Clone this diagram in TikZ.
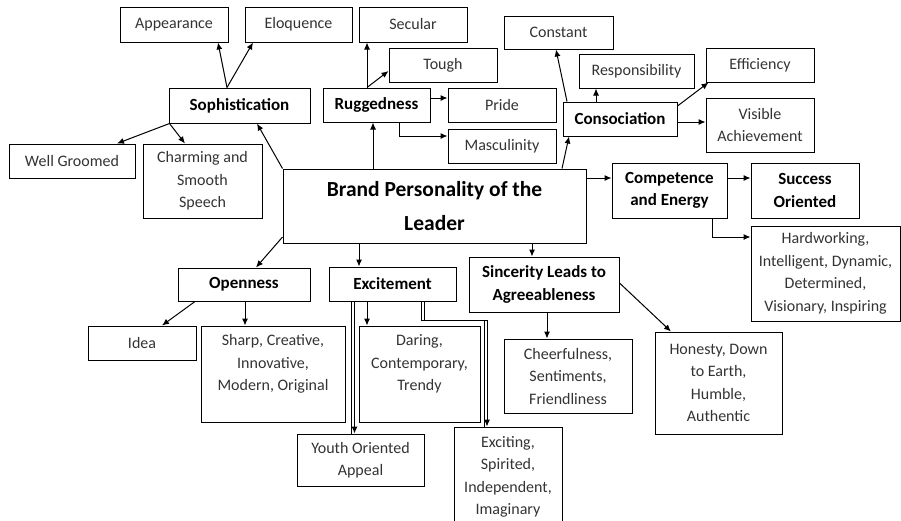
\documentclass[tikz,border=0pt]{standalone}
\usepackage{fontspec}
\setmainfont{Carlito}
\usetikzlibrary{arrows.meta,positioning}

\begin{document}
\begin{tikzpicture}[
    x=1pt, y=-1pt,
    dims/.style 2 args={minimum width=#1, minimum height=#2},
    box/.style={rectangle, draw, line width=1pt, align=center, inner sep=1pt, text=black!80, font=\fontsize{16}{22.5}\selectfont},
    head/.style={box, text=black, font=\fontsize{17}{22.5}\selectfont\bfseries},
    core/.style={box, text=black, font=\fontsize{21.5}{34}\selectfont\bfseries},
    arrow/.style={-{Latex[length=7pt,width=6pt]}, line width=1pt},
    twin/.style={arrow, preaction={draw, -, line width=1pt, transform canvas={xshift=-2.7pt}}}
]
\useasboundingbox (0,0) rectangle (901,520);

% centre
\node[core, dims={303}{74}] (brand) at (434.5,206) {Brand Personality of the\\Leader};

% upper left
\node[head, dims={141}{35}] (soph) at (239.5,105.5) {Sophistication};
\node[box, dims={108}{35}] (appear) at (174,24.5) {Appearance};
\node[box, dims={107}{35}] (eloq) at (298.5,24.5) {Eloquence};
\node[box, dims={126}{34}] (groomed) at (72,161) {Well Groomed};
\node[box, dims={119}{74}] (charming) at (202.5,181) {Charming and\\Smooth\\Speech};

% upper middle
\node[head, dims={107}{34}] (rugg) at (376.5,105) {Ruggedness};
\node[box, dims={108}{35}] (secular) at (413,24.5) {Secular};
\node[box, dims={108}{34}] (tough) at (443,65) {Tough};
\node[box, dims={108}{34}] (pride) at (502,105) {Pride};
\node[box, dims={108}{34}] (mascu) at (502,146) {Masculinity};

% upper right
\node[head, dims={114}{34}] (consoc) at (620,119) {Consociation};
\node[box, dims={109}{33}] (constant) at (558.5,32.5) {Constant};
\node[box, dims={115}{34}] (respons) at (636.5,71) {Responsibility};
\node[box, dims={108}{34}] (effic) at (760,65) {Efficiency};
\node[box, dims={108}{54}] (visible) at (760,125) {Visible\\Achievement};

% right
\node[head, dims={115}{55}] (compet) at (669.5,190.5) {Competence\\and Energy};
\node[head, dims={108}{55}] (success) at (805,190.5) {Success\\Oriented};
\node[box, dims={149}{95}] (hardw) at (825.5,273.5) {Hardworking,\\Intelligent, Dynamic,\\Determined,\\Visionary, Inspiring};

% lower
\node[head, dims={132}{33}] (openness) at (244,284.5) {Openness};
\node[box, dims={108}{34}] (idea) at (142,343) {Idea};
\node[box, dims={144}{96}] (sharp) at (273,374) {Sharp, Creative,\\Innovative,\\Modern, Original\\\mbox{}};
\node[head, dims={127}{34}] (excite) at (392.5,284) {Excitement};
\node[box, dims={121}{96}] (daring) at (419.5,374) {Daring,\\Contemporary,\\Trendy\\\mbox{}};
\node[box, dims={127}{52}] (youth) at (360.5,460) {Youth Oriented\\Appeal};
\node[box, dims={108}{100}] (exciting) at (508,477) {Exciting,\\Spirited,\\Independent,\\Imaginary};
\node[head, dims={150}{55}] (sincere) at (544,284.5) {Sincerity Leads to\\Agreeableness};
\node[box, dims={128}{74}] (cheer) at (568,376) {Cheerfulness,\\Sentiments,\\Friendliness};
\node[box, dims={127}{102}] (honesty) at (718.5,383) {Honesty, Down\\to Earth,\\Humble,\\Authentic};

% connectors
\draw[arrow] ([xshift=-12.5pt]soph.north) -- ([xshift=44pt]appear.south);
\draw[arrow] ([xshift=-12.5pt]soph.north) -- ([xshift=-45.5pt]eloq.south);
\draw[arrow] ([xshift=1pt]soph.south west) -- ([xshift=45pt]groomed.north);
\draw[arrow] ([xshift=1pt]soph.south west) -- ([xshift=-17.5pt]charming.north);
\draw[arrow] (brand.north west) -- ([xshift=17.5pt]soph.south);

\draw[arrow] ([xshift=-61.5pt]brand.north) -- ([xshift=-3.5pt]rugg.south);
\draw[arrow] ([xshift=-9.5pt]rugg.north) -- ([xshift=-46pt]secular.south);
\draw[arrow] ([xshift=-9.5pt]rugg.north) -- ([yshift=-6pt]tough.west);
\draw[arrow] ([yshift=7pt]rugg.east) -- ([yshift=7pt]pride.west);
\draw[arrow] ([xshift=22.5pt]rugg.south) |- ([yshift=10pt]mascu.west);

\draw[arrow] ([xshift=127.5pt]brand.north) -- ([xshift=-51pt]consoc.south);
\draw[arrow] ([xshift=-53pt]consoc.north) -- ([xshift=-2.5pt]constant.south);
\draw[arrow] ([xshift=-24pt]consoc.north) -- ([xshift=-40.5pt]respons.south);
\draw[arrow] ([yshift=13pt]consoc.east) -- ([xshift=3pt]effic.south west);
\draw[arrow] ([yshift=-3pt]consoc.east) -- ([yshift=3pt]visible.west);

\draw[arrow] ([yshift=28pt]brand.east) -- ([yshift=12.5pt]compet.west);
\draw[arrow] ([yshift=12.5pt]compet.east) -- ([yshift=12.5pt]success.west);
\draw[arrow] ([xshift=42.5pt]compet.south) |- ([yshift=36.5pt]hardw.west);

\draw[arrow] ([yshift=-31pt]brand.west) -- ([xshift=12pt]openness.north);
\draw[arrow] ([xshift=-49pt]openness.south) -- ([xshift=20pt]idea.north);
\draw[arrow] ([xshift=1pt]openness.south) -- ([xshift=-28pt]sharp.north);

\draw[arrow] ([xshift=-75.5pt]brand.south) -- ([xshift=-33.5pt]excite.north);
\draw[twin] ([xshift=-38pt]excite.south) -- ([xshift=-6pt]youth.north);
\draw[arrow] ([xshift=-25.5pt]excite.south) -- ([xshift=-52.5pt]daring.north);
\draw[twin] ([xshift=31.5pt]excite.south) -- ++(0,19) -| ([xshift=-21pt]exciting.north);

\draw[arrow] ([xshift=97.5pt]brand.south) -- ([xshift=-12pt]sincere.north);
\draw[arrow] ([xshift=3pt]sincere.south) -- ([xshift=-21pt]cheer.north);
\draw[arrow] ([yshift=1.5pt]sincere.east) -- ([xshift=-47.5pt]honesty.north);

\end{tikzpicture}
\end{document}
